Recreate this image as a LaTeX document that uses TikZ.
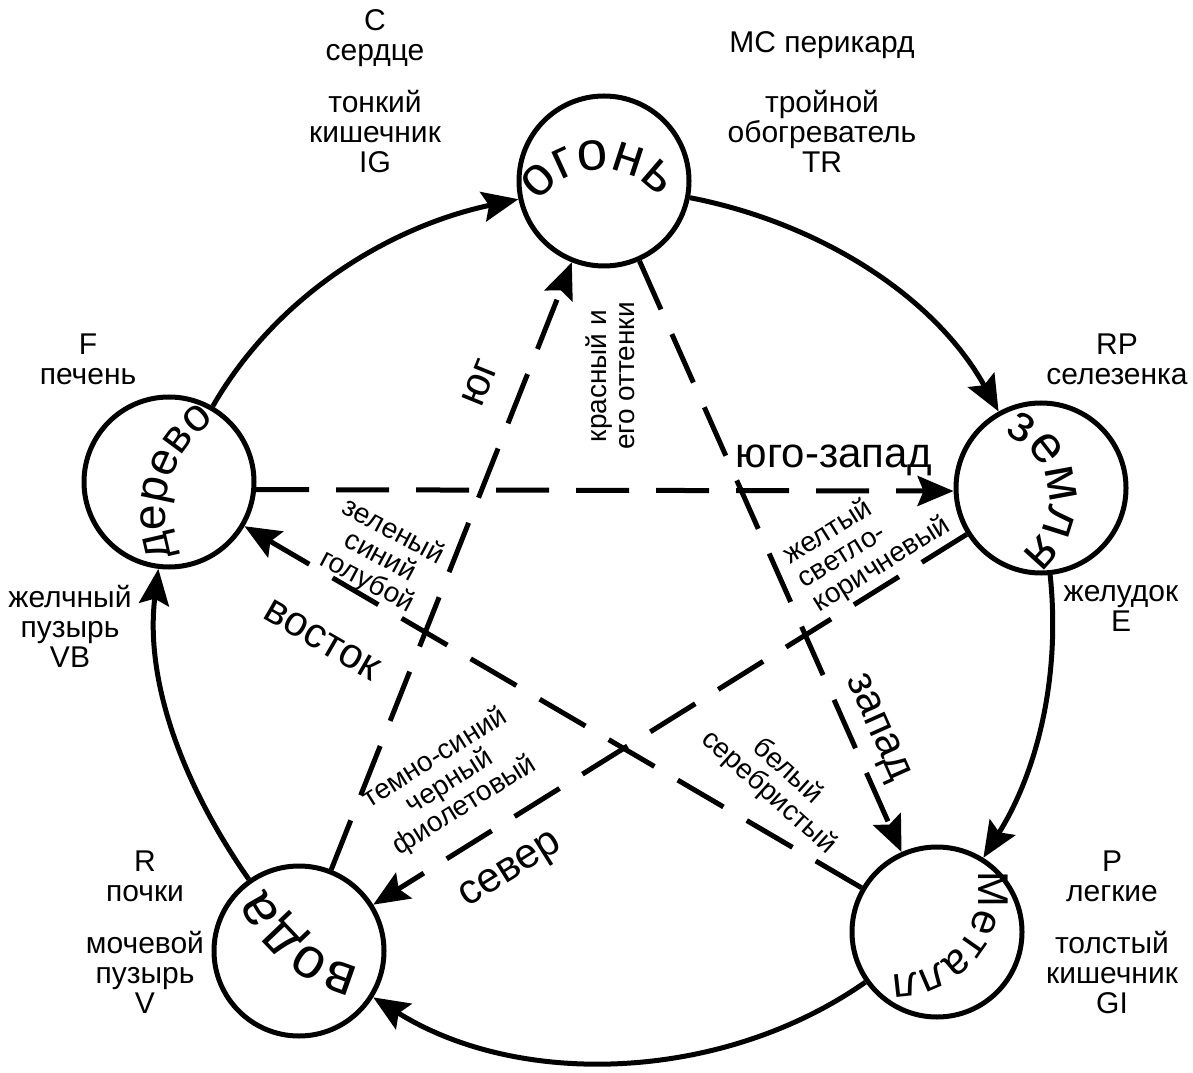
\documentclass[tikz,border=0pt]{standalone}
\usepackage{fontspec}
\setmainfont{Liberation Sans}
\usetikzlibrary{arrows.meta,calc,decorations.text}

\begin{document}
\begin{tikzpicture}[x=1pt,y=1pt]
% STYLES
\tikzset{%
    element/.style={%
        circle,draw,line width=5pt,minimum size=170pt,inner sep=0pt
    },
    cycle/.style={%
        line width=5pt,looseness=0.9,
        -{Stealth[length=36pt,width=30pt,inset=6pt]}
    },
    control/.style={%
        line width=5pt,dash pattern=on 53pt off 27pt,
        -{Stealth[length=36pt,width=30pt,inset=6pt]}
    },
    organlabel/.style={%
        align=center,inner sep=0pt,
        font={\fontsize{30}{30}\selectfont\lineskiplimit=-40pt}
    },
    tintlabel/.style={%
        align=center,inner sep=0pt,
        font={\fontsize{28}{28}\selectfont\lineskiplimit=-40pt}
    },
    sidelabel/.style={%
        inner sep=0pt,font={\fontsize{42}{42}\selectfont}
    }
}
\useasboundingbox (0,0) rectangle (1193,1072);
% Draw elements
\node [element] (fire)  at (604,891) {};
\node [element] (earth) at (1041,584) {};
\node [element] (metal) at (937,140) {};
\node [element] (water) at (299,121) {};
\node [element] (wood)  at (169,590) {};
% Names along the circles
\path[decorate,decoration={text along path,text align=center,
    text={|\fontsize{55}{55}\selectfont|огонь}}]
    ($(fire)+(-3,-64)+(172:75)$) arc[start angle=172,end angle=12,radius=75];
\path[decorate,decoration={text along path,text align=center,
    text={|\fontsize{52}{52}\selectfont|земля}}]
    ($(earth)+(-60,-10)+(93:68)$) arc[start angle=93,end angle=-77,radius=68];
\path[decorate,decoration={text along path,text align=center,
    text={|\fontsize{43}{43}\selectfont|Металл}}]
    ($(metal)+(-42,42)+(40:84)$) arc[start angle=40,end angle=-120,radius=84];
\path[decorate,decoration={text along path,text align=center,
    text={|\fontsize{57}{57}\selectfont|вода}}]
    ($(water)+(91,115)+(280:135)$) arc[start angle=280,end angle=180,radius=135];
\path[decorate,decoration={text along path,text align=center,
    text={|\fontsize{46}{46}\selectfont|дерево}}]
    ($(wood)+(115,-35)+(222.5:119)$) arc[start angle=222.5,end angle=102.5,radius=119];
% Draw the generating cycle
\draw[cycle] (wood) to[out=60,in=192] (fire);
\draw[cycle] (fire) to[out=-11,in=119] (earth);
\draw[cycle] (earth) to[out=-84,in=58] (metal);
\draw[cycle] (metal) to[out=215,in=328] (water);
\draw[cycle] (water) to[out=125,in=263] (wood);
% Draw the controlling star
\draw[control] (wood.-5) -- (earth.182);
\draw[control] (earth) -- (water);
\draw[control] (water) -- (fire);
\draw[control] (fire) -- (metal);
\draw[control] (metal) -- (wood);
% Organs
\node [organlabel,anchor=north] (heart) at (375,1063) {C\\сердце\\[22pt]тонкий\\кишечник\\IG};
\node [organlabel,anchor=north] (pericard) at (822,1041) {MC перикард\\[30pt]тройной\\обогреватель\\TR};
\node [organlabel,anchor=north] (liver) at (88,738) {F\\печень};
\node [organlabel,anchor=north] (gall) at (70,487) {желчный\\пузырь\\VB};
\node [organlabel,anchor=north] (spleen) at (1117,738) {RP\\селезенка};
\node [organlabel,anchor=north] (stomach) at (1121,487) {желудок\\E};
\node [organlabel,anchor=north] (lungs) at (1112,221) {P\\легкие\\[22pt]толстый\\кишечник\\GI};
\node [organlabel,anchor=north] (kidney) at (145,221) {R\\почки\\[22pt]мочевой\\пузырь\\V};
% Colours
\node [tintlabel,rotate=90] (red) at (610,696) {красный и\\его оттенки};
\node [tintlabel,rotate=-28] (green) at (380,515) {зеленый\\синий\\голубой};
\node [tintlabel,align=left,rotate=32] (yellow) at (867,531) {желтый\\светло-\\коричневый};
\node [tintlabel,rotate=32] (black) at (450,290) {темно-синий\\черный\\фиолетовый};
\node [tintlabel,rotate=-42] (white) at (778,290) {белый\\серебристый};
% Directions
\node [sidelabel,anchor=base] (southwest) at (834,604) {юго-запад};
\node [sidelabel,rotate=68] (south) at (480,689) {юг};
\node [sidelabel,rotate=-66] (west) at (876,344) {запад};
\node [sidelabel,rotate=32] (north) at (512,200) {север};
\node [sidelabel,rotate=-30] (east) at (322,432) {восток};
\end{tikzpicture}
\end{document}
